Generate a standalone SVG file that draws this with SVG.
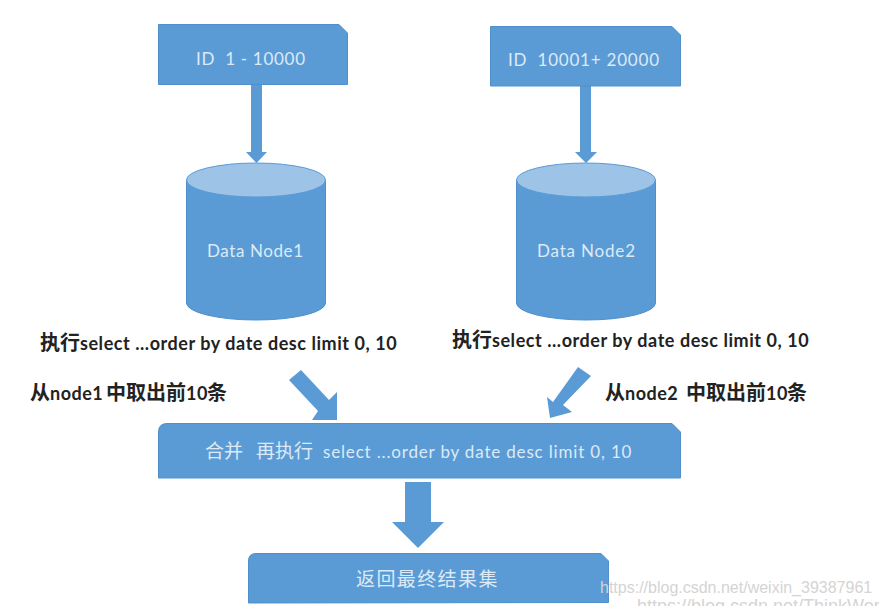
<svg xmlns="http://www.w3.org/2000/svg" width="879" height="606" viewBox="0 0 879 606">
<style>
.b{fill:#5b9bd5;stroke:#4f90cc;stroke-width:1}
.a{fill:#5b9bd5}
.t{fill:#dceaf7;font-family:"Lato","Noto Sans CJK SC",sans-serif;font-size:17px}
.k{fill:#222;font-family:"Lato","Noto Sans CJK SC",sans-serif;font-size:18px;font-weight:700}
.c{font-size:20px}
.w{fill:#d4d4d4;font-family:"Liberation Sans",sans-serif;font-size:16px}
.top{fill:#9dc3e6;stroke:#5b9bd5;stroke-width:1}
</style>
<rect width="879" height="606" fill="#fff"/>
<g id="connectors">
<polygon class="a" points="251,85 262,85 262,152 267,152 256.500,163 246,152 251,152"/>
<polygon class="a" points="580,86 591,86 591,152 597,152 586,163 575,152 580,152"/>
<polygon class="a" points="301,370 329,400 337,392 337,420 312,420 318,411 289,380"/>
<polygon class="a" points="578,367 591,376 563,405 572,412 550,418 547,397 553,402"/>
<polygon class="a" points="405,482 431,482 431,522 444,522 418,548 392,522 405,522"/>
</g>
<g id="source1">
<path class="b" d="M158.500,24.500H339L347.500,33V84.500H158.500Z"/>
<text class="t" x="196" y="65" xml:space="preserve" textLength="109">ID  1 - 10000</text>
</g>
<g id="source2">
<path class="b" d="M490.500,26.500H672L680.500,35V86H490.500Z"/>
<text class="t" x="508" y="66" xml:space="preserve" textLength="151">ID  10001+ 20000</text>
</g>
<g id="node1">
<path class="b" d="M186.500,180V303A69.500,17 0 0 0 325.500,303V180Z"/>
<ellipse class="top" cx="256" cy="180" rx="69.500" ry="17"/>
<text class="t" x="207" y="257" textLength="96">Data Node1</text>
</g>
<g id="node2">
<path class="b" d="M516.500,180V303A69.500,17 0 0 0 655.500,303V180Z"/>
<ellipse class="top" cx="586" cy="180" rx="69.500" ry="17"/>
<text class="t" x="537" y="257" textLength="98">Data Node2</text>
</g>
<g id="merge">
<path class="b" d="M158.500,478V432Q158.500,423.500 167,423.500H672L680.500,432V478Z"/>
<text class="t" x="205" y="458"><tspan style="font-size:19px">合并</tspan><tspan x="256" style="font-size:19px">再执行</tspan><tspan x="323" letter-spacing="0.83">select ...order by date desc limit 0, 10</tspan></text>
</g>
<g id="result">
<path class="b" d="M248.500,603V561Q248.500,553.500 256,553.500H601L608.500,561V602.500Z"/>
<text class="t" x="356" y="586" style="font-size:19px" letter-spacing="1.400">返回最终结果集</text>
</g>
<g id="labels">
<text class="k" x="40" y="350"><tspan class="c">执行</tspan><tspan letter-spacing="0.55">select ...order by date desc limit 0, 10</tspan></text>
<text class="k" x="452" y="347"><tspan class="c">执行</tspan><tspan letter-spacing="0.55">select ...order by date desc limit 0, 10</tspan></text>
<text class="k" x="30" y="400"><tspan class="c">从</tspan><tspan letter-spacing="0.5">node1</tspan><tspan class="c" x="106">中取出前</tspan><tspan x="186" letter-spacing="0.5">10</tspan><tspan class="c" x="207">条</tspan></text>
<text class="k" x="605" y="400"><tspan class="c">从</tspan><tspan letter-spacing="0.5">node2</tspan><tspan class="c" x="686">中取出前</tspan><tspan x="766" letter-spacing="0.5">10</tspan><tspan class="c" x="787">条</tspan></text>
</g>
<g id="watermark">
<text class="w" x="600" y="593">https://blog.csdn.net/weixin_39387961</text>
<text class="w" x="637" y="612" style="font-size:18px">https://blog.csdn.net/ThinkWor</text>
</g>
</svg>
